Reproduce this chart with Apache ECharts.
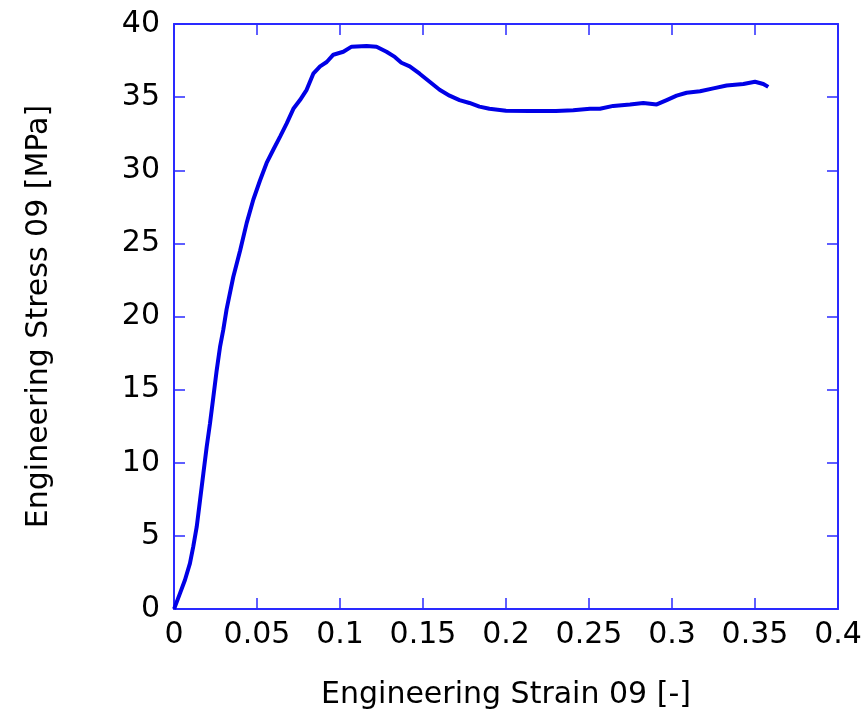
<!DOCTYPE html>
<html>
<head>
<meta charset="utf-8">
<script src="https://cdn.jsdelivr.net/npm/echarts@6/dist/echarts.min.js"></script>
<style>html,body{margin:0;padding:0;background:#fff;}#c{width:867px;height:719px;}</style>
</head>
<body>
<div id="c"></div>
<script>
const strain = [0, 0.0006, 0.0036, 0.0066, 0.0096, 0.0116, 0.0137, 0.0157, 0.0177, 0.0197, 0.0217, 0.0237, 0.0257, 0.0277, 0.0297, 0.0317, 0.0357, 0.0398, 0.0438, 0.0478, 0.0518, 0.0558, 0.0598, 0.0639, 0.0679, 0.0719, 0.0759, 0.0799, 0.0839, 0.088, 0.092, 0.096, 0.102, 0.107, 0.116, 0.122, 0.128, 0.133, 0.137, 0.142, 0.148, 0.154, 0.160, 0.166, 0.172, 0.178, 0.184, 0.190, 0.200, 0.214, 0.230, 0.2405, 0.2506, 0.2566, 0.2646, 0.2747, 0.2827, 0.2908, 0.2968, 0.3028, 0.3088, 0.3169, 0.3249, 0.3329, 0.343, 0.350, 0.355, 0.358];
const stress = [0, 0.16, 1.07, 1.98, 3.12, 4.26, 5.63, 7.45, 9.28, 11.1, 12.7, 14.5, 16.3, 17.9, 19.1, 20.5, 22.7, 24.5, 26.4, 28.0, 29.3, 30.5, 31.4, 32.3, 33.2, 34.2, 34.8, 35.5, 36.6, 37.1, 37.4, 37.9, 38.1, 38.45, 38.5, 38.45, 38.1, 37.75, 37.35, 37.1, 36.6, 36.05, 35.5, 35.1, 34.8, 34.6, 34.35, 34.2, 34.07, 34.05, 34.05, 34.1, 34.2, 34.2, 34.4, 34.5, 34.6, 34.5, 34.8, 35.1, 35.3, 35.4, 35.6, 35.8, 35.9, 36.05, 35.9, 35.7];
const xTitle = 'Engineering Strain 09 [-]';
const yTitle = 'Engineering Stress 09 [MPa]';

const axisColor = '#2a2aff';
const font = 'DejaVu Sans';
const fmt = v => String(Number(v.toFixed(2)));

const chart = echarts.init(document.getElementById('c'), null, {renderer: 'canvas'});
const baseAxis = {
  axisLine: {show: true, onZero: false, lineStyle: {color: axisColor, width: 2}},
  axisTick: {show: true, inside: true, length: 11, lineStyle: {color: axisColor, width: 1.5}},
  splitLine: {show: false}
};
chart.setOption({
  animation: false,
  backgroundColor: '#fff',
  grid: {left: 174, top: 24, right: 29, bottom: 110, containLabel: false},
  xAxis: [
    Object.assign({}, baseAxis, {
      type: 'value', position: 'bottom', min: 0, max: 0.4, interval: 0.05,
      name: xTitle, nameLocation: 'middle', nameGap: 71,
      nameTextStyle: {fontFamily: font, fontSize: 30, color: '#000'},
      axisLabel: {fontFamily: font, fontSize: 30, color: '#000', margin: 11, formatter: fmt}
    }),
    Object.assign({}, baseAxis, {
      type: 'value', position: 'top', min: 0, max: 0.4, interval: 0.05,
      axisLabel: {show: false}
    })
  ],
  yAxis: [
    Object.assign({}, baseAxis, {
      type: 'value', position: 'left', min: 0, max: 40, interval: 5,
      name: yTitle, nameLocation: 'middle', nameGap: 120, nameRotate: 90,
      nameTextStyle: {fontFamily: font, fontSize: 30, color: '#000'},
      axisLabel: {fontFamily: font, fontSize: 30, color: '#000', margin: 14}
    }),
    Object.assign({}, baseAxis, {
      type: 'value', position: 'right', min: 0, max: 40, interval: 5,
      axisLabel: {show: false}
    })
  ],
  series: [{
    type: 'line',
    data: strain.map((x, i) => [x, stress[i]]),
    showSymbol: false,
    smooth: false,
    lineStyle: {color: '#0000e6', width: 4},
    itemStyle: {color: '#0000e6'}
  }]
});
</script>
</body>
</html>
